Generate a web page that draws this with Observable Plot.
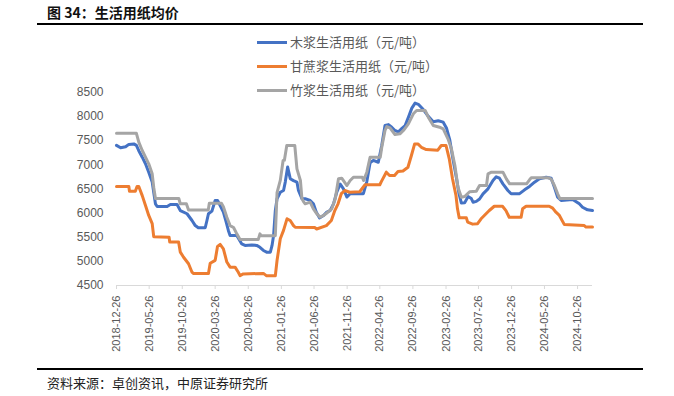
<!DOCTYPE html>
<html><head><meta charset="utf-8">
<script src="https://cdn.jsdelivr.net/npm/d3@7"></script>
<script src="https://cdn.jsdelivr.net/npm/@observablehq/plot@0.6"></script>
<style>
body{margin:0;background:#fff;font-family:"Noto Sans CJK SC","Liberation Sans",sans-serif;}
#wrap{position:relative;width:674px;height:396px;overflow:hidden;}
#title{position:absolute;left:37px;top:0;width:606px;height:23px;border-bottom:2px solid #000;box-sizing:content-box;font-weight:bold;font-size:14px;line-height:24px;padding-left:0;color:#111;}
#title span{margin-left:10px;}
#chart{position:absolute;left:0;top:25px;}
#legend{position:absolute;left:257px;top:30px;font-size:13px;color:#595959;}
.row{position:relative;height:24px;line-height:24px;white-space:nowrap;}
.sw{position:absolute;left:0;top:11px;width:30px;height:3px;}
.lab{position:absolute;left:33px;top:0;}
#caption{position:absolute;left:37px;top:368px;width:606px;border-top:2px solid #000;font-size:13px;line-height:26px;color:#222;}
#caption span{margin-left:10px;}
</style></head>
<body>
<div id="wrap">
<div id="title"><span>图 34：生活用纸均价</span></div>
<div id="chart"></div>
<div id="legend"></div>
<div id="caption"><span>资料来源：卓创资讯，中原证券研究所</span></div>
</div>
<script>
const seriesNames = ["木浆生活用纸（元/吨）", "甘蔗浆生活用纸（元/吨）", "竹浆生活用纸（元/吨）"];
const seriesColors = ["#4472C4", "#ED7D31", "#A5A5A5"];
const yTicks = [4500, 5000, 5500, 6000, 6500, 7000, 7500, 8000, 8500];
const xTickLabels = ["2018-12-26","2019-05-26","2019-10-26","2020-03-26","2020-08-26","2021-01-26","2021-06-26","2021-11-26","2022-04-26","2022-09-26","2023-02-26","2023-07-26","2023-12-26","2024-05-26","2024-10-26"];
const xDomain = ["2018-12-26", "2025-01-03"];

const woodDates = ["2018-12-26","2019-01-14","2019-02-06","2019-02-21","2019-03-16","2019-03-28","2019-04-08","2019-04-24","2019-05-09","2019-05-24","2019-06-09","2019-06-16","2019-06-24","2019-07-02","2019-08-17","2019-09-01","2019-10-02","2019-10-17","2019-11-17","2019-12-10","2019-12-25","2020-01-08","2020-02-09","2020-02-17","2020-02-24","2020-03-11","2020-03-26","2020-04-06","2020-04-18","2020-05-03","2020-05-16","2020-05-26","2020-06-03","2020-07-04","2020-07-27","2020-08-11","2020-09-11","2020-10-04","2020-10-19","2020-11-04","2020-11-19","2020-12-06","2020-12-14","2020-12-21","2020-12-29","2021-01-06","2021-01-21","2021-02-05","2021-02-13","2021-02-24","2021-03-08","2021-03-23","2021-04-08","2021-04-15","2021-05-01","2021-05-16","2021-06-08","2021-06-23","2021-07-06","2021-07-21","2021-08-09","2021-08-24","2021-09-08","2021-09-24","2021-10-09","2021-10-25","2021-11-09","2021-11-25","2021-12-10","2022-01-10","2022-02-09","2022-02-25","2022-03-12","2022-03-27","2022-04-19","2022-05-05","2022-05-20","2022-06-05","2022-06-20","2022-07-05","2022-07-21","2022-08-05","2022-08-21","2022-09-05","2022-09-21","2022-10-06","2022-10-21","2022-11-13","2022-12-06","2022-12-29","2023-01-21","2023-02-13","2023-02-28","2023-03-15","2023-03-30","2023-04-15","2023-04-27","2023-05-08","2023-05-23","2023-06-08","2023-06-23","2023-07-01","2023-07-16","2023-07-31","2023-08-16","2023-09-08","2023-10-01","2023-10-16","2023-10-31","2023-11-16","2023-12-09","2023-12-24","2024-02-01","2024-02-24","2024-03-18","2024-04-10","2024-05-03","2024-06-03","2024-06-26","2024-07-11","2024-07-26","2024-08-11","2024-10-03","2024-10-18","2024-11-03","2024-11-18","2024-12-11","2025-01-03"];
const woodPrice = [7400,7350,7370,7420,7430,7400,7290,7155,7020,6845,6640,6430,6190,6135,6135,6175,6175,6050,5985,5845,5740,5695,5695,5845,5985,6040,6260,6260,6155,6020,5810,5640,5535,5535,5360,5330,5340,5330,5290,5225,5190,5190,5330,5535,6050,6295,6430,6465,6640,6950,6710,6670,6640,6465,6295,6295,6260,6190,6020,5900,5950,6020,6050,6190,6430,6600,6500,6330,6400,6400,6400,6650,7040,7090,7050,7400,7810,7830,7776,7707,7680,7745,7810,7980,8170,8275,8250,8140,8000,7890,7910,7880,7760,7520,7120,6730,6400,6205,6210,6340,6300,6224,6240,6290,6397,6500,6673,6750,6720,6603,6466,6397,6400,6480,6550,6638,6707,6741,6720,6534,6327,6259,6280,6240,6190,6120,6066,6050];

const caneDates = ["2018-12-26","2019-02-21","2019-02-24","2019-03-23","2019-03-31","2019-04-08","2019-04-24","2019-05-09","2019-05-24","2019-06-09","2019-06-16","2019-08-26","2019-08-29","2019-10-09","2019-10-17","2019-11-01","2019-11-24","2019-12-10","2019-12-16","2020-02-24","2020-03-03","2020-03-26","2020-04-06","2020-04-18","2020-05-03","2020-05-19","2020-06-03","2020-06-26","2020-07-11","2020-07-19","2020-08-03","2020-11-04","2020-11-19","2020-12-29","2021-01-06","2021-01-21","2021-02-05","2021-02-21","2021-03-08","2021-03-23","2021-03-31","2021-06-29","2021-07-08","2021-08-22","2021-09-14","2021-09-30","2021-10-15","2021-10-30","2021-11-15","2021-12-08","2022-01-23","2022-02-16","2022-04-26","2022-05-03","2022-05-26","2022-06-10","2022-07-03","2022-07-19","2022-08-11","2022-09-03","2022-09-19","2022-10-04","2022-10-19","2022-11-04","2022-11-27","2023-01-19","2023-02-04","2023-02-26","2023-03-13","2023-03-28","2023-04-13","2023-04-20","2023-04-28","2023-05-31","2023-06-06","2023-06-29","2023-07-22","2023-08-07","2023-08-22","2023-09-14","2023-10-07","2023-11-14","2023-11-30","2023-12-15","2024-02-08","2024-02-15","2024-03-02","2024-06-17","2024-07-03","2024-07-18","2024-08-03","2024-08-26","2024-11-26","2024-12-04","2025-01-03"];
const canePrice = [6550,6550,6450,6450,6550,6550,6360,6155,5950,5780,5510,5500,5400,5400,5190,5085,4950,4775,4750,4750,4960,5020,5310,5350,5260,4985,4880,4880,4775,4705,4740,4750,4700,4700,5017,5466,5640,5880,5845,5740,5706,5700,5670,5740,5845,6050,6190,6400,6465,6430,6440,6584,6585,6650,6845,6776,6776,6860,6870,6948,7190,7430,7430,7360,7314,7300,7397,7397,7122,6708,6362,6087,5900,5900,5810,5770,5780,5880,5948,6052,6140,6140,6050,5913,5913,6087,6140,6140,6100,6017,5950,5760,5740,5710,5710];

const bambooDates = ["2018-12-26","2019-03-28","2019-04-08","2019-04-24","2019-05-09","2019-05-24","2019-06-09","2019-06-16","2019-06-24","2019-10-10","2019-10-17","2019-11-14","2019-11-24","2020-02-23","2020-02-28","2020-04-24","2020-05-03","2020-05-19","2020-06-03","2020-06-19","2020-07-04","2020-07-19","2020-10-11","2020-10-19","2020-10-24","2020-12-29","2021-01-06","2021-01-21","2021-02-03","2021-02-09","2021-02-20","2021-03-29","2021-04-08","2021-04-24","2021-05-01","2021-05-09","2021-05-16","2021-06-08","2021-06-23","2021-07-09","2021-07-24","2021-08-09","2021-08-24","2021-09-16","2021-10-02","2021-10-17","2021-11-01","2021-11-25","2021-12-10","2021-12-25","2022-02-04","2022-02-10","2022-02-25","2022-03-12","2022-04-28","2022-05-05","2022-05-20","2022-05-28","2022-06-12","2022-07-05","2022-07-28","2022-08-13","2022-09-05","2022-09-28","2022-10-13","2022-11-22","2022-12-06","2022-12-29","2023-01-27","2023-02-13","2023-03-07","2023-03-23","2023-04-08","2023-04-22","2023-05-08","2023-05-23","2023-06-15","2023-07-16","2023-07-31","2023-09-01","2023-09-08","2023-09-24","2023-11-16","2023-12-02","2023-12-17","2024-03-04","2024-03-18","2024-03-26","2024-06-11","2024-06-26","2024-07-11","2024-07-26","2024-08-05","2025-01-03"];
const bambooPrice = [7650,7650,7466,7293,7155,7018,6811,6534,6300,6300,6190,6190,6060,6060,6200,6200,6130,5913,5740,5700,5569,5450,5450,5569,5530,5530,6420,6673,7087,7090,7397,7397,6914,6673,6300,6230,6190,6224,6087,5983,5913,5950,6000,6087,6294,6707,6720,6569,6673,6741,6741,6673,6845,7155,7155,7362,7707,7790,7760,7625,7639,7707,7846,8053,8121,8121,7983,7811,7776,7740,7535,7328,6983,6534,6327,6340,6440,6451,6569,6569,6811,6845,6845,6707,6603,6603,6687,6730,6730,6700,6569,6397,6300,6300];

const parse = d3.utcParse("%Y-%m-%d");
const rows = [];
[[woodDates, woodPrice], [caneDates, canePrice], [bambooDates, bambooPrice]].forEach(([ds, vs], i) => {
  ds.forEach((d, j) => rows.push({date: parse(d), value: vs[j], series: seriesNames[i]}));
});

const chart = Plot.plot({
  width: 674,
  height: 343,
  marginLeft: 116,
  marginRight: 82,
  marginTop: 66.7,
  marginBottom: 83,
  style: {fontFamily: "'Liberation Sans', Arial, sans-serif", background: "transparent"},
  x: {type: "utc", domain: xDomain.map(parse)},
  y: {domain: [4500, 8500]},
  color: {domain: seriesNames, range: seriesColors},
  marks: [
    Plot.axisY({ticks: yTicks, tickFormat: d3.format("d"), tickSize: 0, tickPadding: 13, fontSize: 12, fill: "#595959", label: null}),
    Plot.ruleY([4500], {stroke: "#D9D9D9", strokeWidth: 1}),
    Plot.axisX({ticks: xTickLabels.map(parse), tickFormat: d3.utcFormat("%Y-%m-%d"), tickRotate: -90, tickSize: 4, tickPadding: 6, fontSize: 11, stroke: "#D9D9D9", fill: "#595959", label: null}),
    Plot.line(rows, {x: "date", y: "value", z: "series", stroke: "series", strokeWidth: 3, strokeLinejoin: "round"})
  ]
});
document.getElementById("chart").appendChild(chart);

const legend = document.getElementById("legend");
seriesNames.forEach((n, i) => {
  const r = document.createElement("div");
  r.className = "row";
  r.innerHTML = `<span class="sw" style="background:${seriesColors[i]}"></span><span class="lab">${n}</span>`;
  legend.appendChild(r);
});
</script>
</body></html>
